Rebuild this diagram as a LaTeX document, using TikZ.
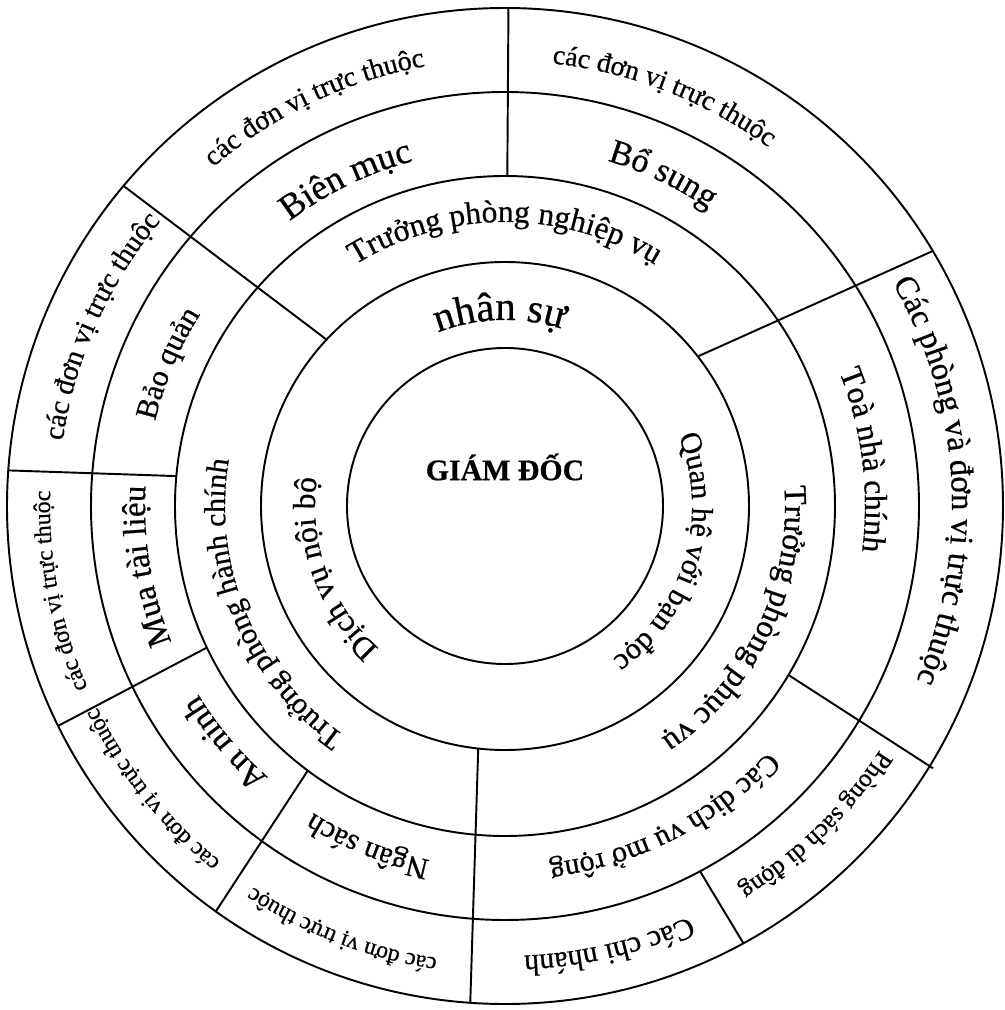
\documentclass[tikz,border=0pt]{standalone}
\usepackage{fontspec}
\setmainfont[FakeBold=0.6]{Liberation Serif}
\usepackage{tikz}
\usetikzlibrary{decorations.text}

% text set clockwise along a ring: radius, middle angle, size (pt), text
\newcommand{\ringtext}[4]{%
  \path[decorate,decoration={text along path,text align=center,
      text={|\fontsize{#3}{#3}\selectfont|#4}}]
    (#2+80:#1) arc[start angle=#2+80,end angle=#2-80,radius=#1];}

\begin{document}
\begin{tikzpicture}[x=1cm,y=1cm,line width=0.55pt,
    ring/.style={draw=black},
    cut/.style={draw=black}]
  \useasboundingbox (-5.05,-5.04) rectangle (4.99,5.06);

  % rings
  \draw[ring] (0,0) circle[radius=1.58];
  \draw[ring] (0,0) circle[radius=2.44];
  \draw[ring] (0,0) circle[radius=3.30];
  \draw[ring] (0,0) circle[radius=4.14];
  \draw[ring] (0,0) circle[radius=4.98];

  % dividers
  \draw[cut] (137:2.44)   -- (140:4.98);
  \draw[cut] (89.6:3.30)  -- (89.6:4.98);
  \draw[cut] (37.8:2.44)  -- (30.8:4.98);
  \draw[cut] (174.8:3.30) -- (175.9:4.98);
  \draw[cut] (205.4:3.30) -- (206.2:4.98);
  \draw[cut] (233.3:3.30) -- (234.5:4.98);
  \draw[cut] (263.7:2.44) -- (266:4.98);
  \draw[cut] (-30.8:3.30) -- (-31.5:5.02);
  \draw[cut] (-61.9:4.14) -- (-61.4:4.98);

  \node[font=\fontsize{8.5}{10}\selectfont\bfseries] (gd) at (0,0.39) {GIÁM ĐỐC};

  % inner ring
  \ringtext{1.86}{91.5}{11.6}{nhân sự}
  \ringtext{1.87}{-16.5}{8.6}{Quan hệ với bạn đọc}
  \ringtext{1.90}{200}{9}{Dịch vụ nội bộ}

  % heads
  \ringtext{2.84}{90}{9}{Trưởng phòng nghiệp vụ}
  \ringtext{2.80}{-26}{9.1}{Trưởng phòng phục vụ}
  \ringtext{2.80}{202.7}{8.6}{Trưởng phòng hành chính}

  % departments
  \ringtext{3.57}{116}{10.2}{Biên mục}
  \ringtext{3.60}{64.5}{9.7}{Bổ sung}
  \ringtext{3.60}{7.3}{9.1}{Toà nhà chính}
  \ringtext{3.60}{-63}{8.5}{Các dịch vụ mở rộng}
  \ringtext{3.62}{248}{8.6}{Ngân sách}
  \ringtext{3.60}{220.2}{9.5}{An ninh}
  \ringtext{3.60}{189.5}{9.4}{Mua tài liệu}
  \ringtext{3.60}{157.1}{8.7}{Bảo quản}

  % units
  \ringtext{4.47}{115.5}{8}{các đơn vị trực thuộc}
  \ringtext{4.45}{68.8}{7.9}{các đơn vị trực thuộc}
  \ringtext{4.47}{3.5}{9.3}{Các phòng và đơn vị trực thuộc}
  \ringtext{4.47}{-45.8}{7.2}{Phòng sách di động}
  \ringtext{4.50}{-76.7}{8.5}{Các chi nhánh}
  \ringtext{4.57}{249}{6.7}{các đơn vị trực thuộc}
  \ringtext{4.55}{218.8}{6.7}{các đơn vị trực thuộc}
  \ringtext{4.55}{190.8}{6.8}{các đơn vị trực thuộc}
  \ringtext{4.47}{156}{8.2}{các đơn vị trực thuộc}
\end{tikzpicture}
\end{document}
